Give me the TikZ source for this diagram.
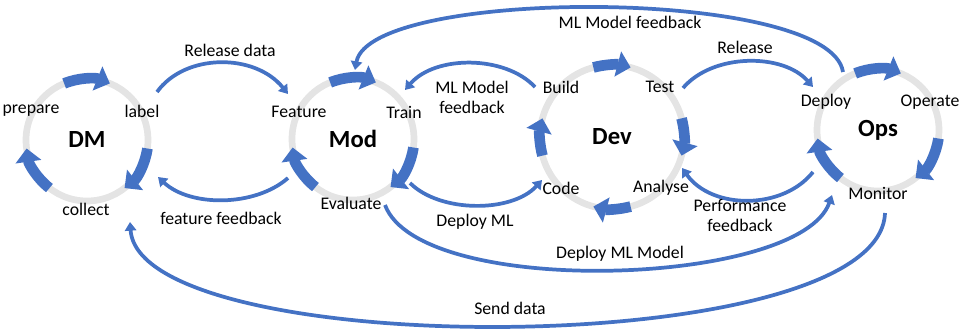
\documentclass[tikz,border=0pt]{standalone}
\usepackage{fontspec}
\setmainfont{Carlito}
\usetikzlibrary{arrows.meta}
\definecolor{flowblue}{RGB}{68,114,196}
\definecolor{ringgray}{RGB}{228,228,228}
\tikzset{
  ring/.style={draw=ringgray,line width=5pt},
  turn/.style={draw=flowblue,line width=8pt,-{Triangle[width=19pt,length=10pt]}},
  link/.style={draw=flowblue,line width=2.8pt,-{Triangle[width=8.5pt,length=6.5pt]}},
  phase/.style={inner sep=0pt,font=\fontsize{18.5}{20}\selectfont\bfseries},
  lbl/.style={inner sep=0pt,align=center,font=\fontsize{13.3}{15}\selectfont},
}
\begin{document}
\begin{tikzpicture}[x=0.75pt,y=0.75pt]
\useasboundingbox (0,0) rectangle (960,333);
%% the four cycles
\node (dm)  at (87,193)  [phase] {DM};
\node (mod) at (353,194) [phase] {Mod};
\node (dev) at (612,196) [phase] {Dev};
\node (ops) at (878,203) [phase] {Ops};
\foreach \c in {dm,mod,ops} {
  \draw [ring] (\c) circle (45.75pt);
  \foreach \a in {90,-30,210}
    \draw [turn] ([shift={(\a+22:45.75pt)}]\c.center) arc[start angle=\a+22, end angle=\a-22, radius=45.75pt];
}
\draw [ring] (dev) circle (54pt);
\foreach \a in {90,0,-90,180}
  \draw [turn] ([shift={(\a+15:54pt)}]dev.center) arc[start angle=\a+15, end angle=\a-15, radius=54pt];
%% step labels
\node (prepare) at (31,222)  [lbl] {prepare};
\node (label)   at (142,222) [lbl] {label};
\node (collect) at (86,124)  [lbl] {collect};
\node (feature) at (299,221) [lbl] {Feature};
\node (train)   at (404,221) [lbl] {Train};
\node (evaluate) at (351,130) [lbl] {Evaluate};
\node (build)   at (561,246) [lbl] {Build};
\node (test)    at (660,246) [lbl] {Test};
\node (code)    at (561,145) [lbl] {Code};
\node (analyse) at (661,145) [lbl] {Analyse};
\node (deploy)  at (826,231) [lbl] {Deploy};
\node (operate) at (930,231) [lbl] {Operate};
\node (monitor) at (878,140) [lbl] {Monitor};
%% connector ends
\coordinate (dm-ne) at (157,241);
\coordinate (dm-se) at (158,156);
\coordinate (dm-s)  at (130,111);
\coordinate (mod-nw) at (288,239);
\coordinate (mod-sw) at (288,155);
\coordinate (mod-ne) at (405,243);
\coordinate (mod-se) at (410,150);
\coordinate (mod-n)  at (355,263);
\coordinate (mod-s)  at (385,128);
\coordinate (dev-nw) at (535,246);
\coordinate (dev-sw) at (542,153);
\coordinate (dev-ne) at (683,245);
\coordinate (dev-se) at (682,165);
\coordinate (ops-nw) at (813,246);
\coordinate (ops-sw) at (813,161);
\coordinate (ops-n)  at (843,261);
\coordinate (ops-sw2) at (832,138);
\coordinate (ops-s)  at (885,120);
%% hand-offs between cycles
\draw [link] (dm-ne) .. controls (185,280) and (255,280) .. (mod-nw);
\draw [link] (mod-sw) .. controls (255,126) and (190,126) .. (dm-se);
\draw [link] (dev-nw) .. controls (505,278) and (435,278) .. (mod-ne);
\draw [link] (mod-se) .. controls (440,120) and (512,120) .. (dev-sw);
\draw [link] (dev-ne) .. controls (713,280) and (783,280) .. (ops-nw);
\draw [link] (ops-sw) .. controls (783,123) and (712,123) .. (dev-se);
\draw [link] (ops-n) .. controls (830,346) and (370,346) .. (mod-n);
\draw [link] (mod-s) .. controls (420,34) and (800,46) .. (ops-sw2);
\draw [link] (ops-s) .. controls (880,-29) and (140,-29) .. (dm-s);
\node (release-data) at (230,283) [lbl] {Release data};
\node (feature-fb)   at (221,115) [lbl] {feature feedback};
\node (model-fb)     at (472,236) [lbl] {ML Model\\feedback};
\node (deploy-ml)    at (475,111) [lbl] {Deploy ML};
\node (release)      at (745,286) [lbl] {Release};
\node (perf-fb)      at (740,118) [lbl] {Performance\\feedback};
\node (model-fb-top) at (630,311) [lbl] {ML Model feedback};
\node (deploy-model) at (620,79)  [lbl] {Deploy ML Model};
\node (send-data)    at (510,25)  [lbl] {Send data};
%
\end{tikzpicture}
\end{document}
